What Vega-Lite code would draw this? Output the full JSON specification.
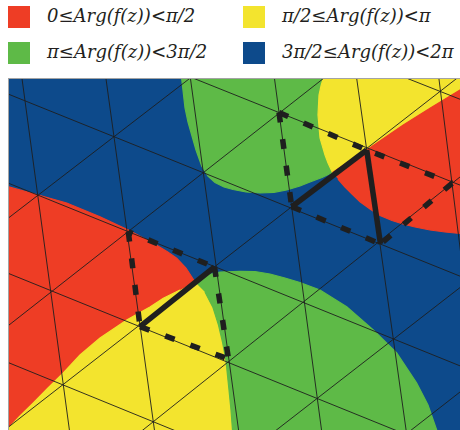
{
  "$schema": "https://vega.github.io/schema/vega-lite/v6.json",
  "width": 451,
  "height": 351,
  "autosize": {"type": "none"},
  "padding": {"left": 9, "top": 79, "right": 0, "bottom": 0},
  "background": "white",
  "config": {
    "view": {"stroke": "#a3a3a3", "strokeWidth": 2},
    "legend": {
      "symbolType": "square",
      "symbolSize": 484,
      "symbolStrokeWidth": 0,
      "symbolOpacity": 1,
      "labelFont": "DejaVu Serif",
      "labelFontStyle": "italic",
      "labelFontSize": 18,
      "labelColor": "#231f20",
      "labelOffset": 17,
      "labelLimit": 400,
      "rowPadding": 14,
      "columnPadding": 35,
      "padding": 0
    }
  },
  "datasets": {
    "regionArgs": [
      {"r": "blue", "arg": "3π/2≤Arg(f(z))<2π"},
      {"r": "topGreen", "arg": "π≤Arg(f(z))<3π/2"},
      {"r": "bottomGreen", "arg": "π≤Arg(f(z))<3π/2"},
      {"r": "topYellow", "arg": "π/2≤Arg(f(z))<π"},
      {"r": "bottomYellow", "arg": "π/2≤Arg(f(z))<π"},
      {"r": "topRed", "arg": "0≤Arg(f(z))<π/2"},
      {"r": "bottomRed", "arg": "0≤Arg(f(z))<π/2"}
    ],
    "regions": [
      {"r": "blue", "k": 1, "x": 0, "y": 70},
      {"r": "blue", "k": 2, "x": 470, "y": 70},
      {"r": "blue", "k": 3, "x": 470, "y": 440},
      {"r": "blue", "k": 4, "x": 0, "y": 440},

      {"r": "topGreen", "k": 1, "x": 181.2, "y": 70},
      {"r": "topGreen", "k": 2, "x": 181.7, "y": 79},
      {"r": "topGreen", "k": 3, "x": 185, "y": 108},
      {"r": "topGreen", "k": 4, "x": 188, "y": 122},
      {"r": "topGreen", "k": 5, "x": 191.7, "y": 135},
      {"r": "topGreen", "k": 6, "x": 196, "y": 150},
      {"r": "topGreen", "k": 7, "x": 201.7, "y": 166},
      {"r": "topGreen", "k": 8, "x": 208, "y": 176},
      {"r": "topGreen", "k": 9, "x": 215, "y": 182.5},
      {"r": "topGreen", "k": 10, "x": 224, "y": 187},
      {"r": "topGreen", "k": 11, "x": 233, "y": 189.5},
      {"r": "topGreen", "k": 12, "x": 246, "y": 192},
      {"r": "topGreen", "k": 13, "x": 260, "y": 193},
      {"r": "topGreen", "k": 14, "x": 274, "y": 192.3},
      {"r": "topGreen", "k": 15, "x": 286.7, "y": 190},
      {"r": "topGreen", "k": 16, "x": 300, "y": 186},
      {"r": "topGreen", "k": 17, "x": 310, "y": 182},
      {"r": "topGreen", "k": 18, "x": 322, "y": 177.5},
      {"r": "topGreen", "k": 19, "x": 332.5, "y": 172.5},
      {"r": "topGreen", "k": 20, "x": 328, "y": 163},
      {"r": "topGreen", "k": 21, "x": 325, "y": 155},
      {"r": "topGreen", "k": 22, "x": 320, "y": 138},
      {"r": "topGreen", "k": 23, "x": 318, "y": 115},
      {"r": "topGreen", "k": 24, "x": 319, "y": 95},
      {"r": "topGreen", "k": 25, "x": 321, "y": 86},
      {"r": "topGreen", "k": 26, "x": 323, "y": 79},
      {"r": "topGreen", "k": 27, "x": 324, "y": 70},

      {"r": "topYellow", "k": 1, "x": 324, "y": 70},
      {"r": "topYellow", "k": 2, "x": 323, "y": 79},
      {"r": "topYellow", "k": 3, "x": 321, "y": 86},
      {"r": "topYellow", "k": 4, "x": 319, "y": 95},
      {"r": "topYellow", "k": 5, "x": 318, "y": 115},
      {"r": "topYellow", "k": 6, "x": 320, "y": 138},
      {"r": "topYellow", "k": 7, "x": 325, "y": 155},
      {"r": "topYellow", "k": 8, "x": 328, "y": 163},
      {"r": "topYellow", "k": 9, "x": 332.5, "y": 172.5},
      {"r": "topYellow", "k": 10, "x": 349, "y": 161.5},
      {"r": "topYellow", "k": 11, "x": 366.7, "y": 150},
      {"r": "topYellow", "k": 12, "x": 385, "y": 137.5},
      {"r": "topYellow", "k": 13, "x": 403.3, "y": 125},
      {"r": "topYellow", "k": 14, "x": 430, "y": 108.3},
      {"r": "topYellow", "k": 15, "x": 460, "y": 90},
      {"r": "topYellow", "k": 16, "x": 475, "y": 81},
      {"r": "topYellow", "k": 17, "x": 475, "y": 70},

      {"r": "topRed", "k": 1, "x": 332.5, "y": 172.5},
      {"r": "topRed", "k": 2, "x": 349, "y": 161.5},
      {"r": "topRed", "k": 3, "x": 366.7, "y": 150},
      {"r": "topRed", "k": 4, "x": 385, "y": 137.5},
      {"r": "topRed", "k": 5, "x": 403.3, "y": 125},
      {"r": "topRed", "k": 6, "x": 430, "y": 108.3},
      {"r": "topRed", "k": 7, "x": 460, "y": 90},
      {"r": "topRed", "k": 8, "x": 475, "y": 81},
      {"r": "topRed", "k": 9, "x": 475, "y": 235},
      {"r": "topRed", "k": 10, "x": 460, "y": 233.5},
      {"r": "topRed", "k": 11, "x": 445, "y": 232},
      {"r": "topRed", "k": 12, "x": 430, "y": 230},
      {"r": "topRed", "k": 13, "x": 415, "y": 227},
      {"r": "topRed", "k": 14, "x": 403, "y": 224},
      {"r": "topRed", "k": 15, "x": 392, "y": 220.5},
      {"r": "topRed", "k": 16, "x": 380, "y": 215.5},
      {"r": "topRed", "k": 17, "x": 370, "y": 209},
      {"r": "topRed", "k": 18, "x": 360, "y": 201.7},
      {"r": "topRed", "k": 19, "x": 352, "y": 194},
      {"r": "topRed", "k": 20, "x": 345, "y": 187},
      {"r": "topRed", "k": 21, "x": 338, "y": 179},

      {"r": "bottomRed", "k": 1, "x": 0, "y": 184.5},
      {"r": "bottomRed", "k": 2, "x": 8.3, "y": 186.7},
      {"r": "bottomRed", "k": 3, "x": 38.3, "y": 195},
      {"r": "bottomRed", "k": 4, "x": 66.7, "y": 203},
      {"r": "bottomRed", "k": 5, "x": 100, "y": 216.7},
      {"r": "bottomRed", "k": 6, "x": 128.3, "y": 230},
      {"r": "bottomRed", "k": 7, "x": 153.3, "y": 243.3},
      {"r": "bottomRed", "k": 8, "x": 167, "y": 251.5},
      {"r": "bottomRed", "k": 9, "x": 176.7, "y": 258.3},
      {"r": "bottomRed", "k": 10, "x": 186, "y": 268},
      {"r": "bottomRed", "k": 11, "x": 195, "y": 282},
      {"r": "bottomRed", "k": 12, "x": 180, "y": 290},
      {"r": "bottomRed", "k": 13, "x": 163.3, "y": 298.3},
      {"r": "bottomRed", "k": 14, "x": 150, "y": 307},
      {"r": "bottomRed", "k": 15, "x": 140, "y": 312.5},
      {"r": "bottomRed", "k": 16, "x": 126.7, "y": 320},
      {"r": "bottomRed", "k": 17, "x": 100, "y": 338},
      {"r": "bottomRed", "k": 18, "x": 80, "y": 355},
      {"r": "bottomRed", "k": 19, "x": 63.3, "y": 373},
      {"r": "bottomRed", "k": 20, "x": 48, "y": 388},
      {"r": "bottomRed", "k": 21, "x": 33.3, "y": 403},
      {"r": "bottomRed", "k": 22, "x": 20, "y": 416},
      {"r": "bottomRed", "k": 23, "x": 10, "y": 426.7},
      {"r": "bottomRed", "k": 24, "x": 3, "y": 435},
      {"r": "bottomRed", "k": 25, "x": 0, "y": 435},

      {"r": "bottomYellow", "k": 1, "x": 195, "y": 282},
      {"r": "bottomYellow", "k": 2, "x": 205, "y": 292},
      {"r": "bottomYellow", "k": 3, "x": 213, "y": 307.5},
      {"r": "bottomYellow", "k": 4, "x": 218.5, "y": 325},
      {"r": "bottomYellow", "k": 5, "x": 222.5, "y": 342},
      {"r": "bottomYellow", "k": 6, "x": 226, "y": 361},
      {"r": "bottomYellow", "k": 7, "x": 229, "y": 390},
      {"r": "bottomYellow", "k": 8, "x": 231, "y": 410},
      {"r": "bottomYellow", "k": 9, "x": 232.5, "y": 430},
      {"r": "bottomYellow", "k": 10, "x": 233, "y": 440},
      {"r": "bottomYellow", "k": 11, "x": 0, "y": 440},
      {"r": "bottomYellow", "k": 12, "x": 0, "y": 435},
      {"r": "bottomYellow", "k": 13, "x": 3, "y": 435},
      {"r": "bottomYellow", "k": 14, "x": 10, "y": 426.7},
      {"r": "bottomYellow", "k": 15, "x": 20, "y": 416},
      {"r": "bottomYellow", "k": 16, "x": 33.3, "y": 403},
      {"r": "bottomYellow", "k": 17, "x": 48, "y": 388},
      {"r": "bottomYellow", "k": 18, "x": 63.3, "y": 373},
      {"r": "bottomYellow", "k": 19, "x": 80, "y": 355},
      {"r": "bottomYellow", "k": 20, "x": 100, "y": 338},
      {"r": "bottomYellow", "k": 21, "x": 126.7, "y": 320},
      {"r": "bottomYellow", "k": 22, "x": 140, "y": 312.5},
      {"r": "bottomYellow", "k": 23, "x": 150, "y": 307},
      {"r": "bottomYellow", "k": 24, "x": 163.3, "y": 298.3},
      {"r": "bottomYellow", "k": 25, "x": 180, "y": 290},

      {"r": "bottomGreen", "k": 1, "x": 195, "y": 282},
      {"r": "bottomGreen", "k": 2, "x": 200, "y": 278},
      {"r": "bottomGreen", "k": 3, "x": 206.7, "y": 275},
      {"r": "bottomGreen", "k": 4, "x": 220, "y": 272},
      {"r": "bottomGreen", "k": 5, "x": 240, "y": 271.3},
      {"r": "bottomGreen", "k": 6, "x": 255, "y": 271.5},
      {"r": "bottomGreen", "k": 7, "x": 270, "y": 274},
      {"r": "bottomGreen", "k": 8, "x": 285, "y": 278},
      {"r": "bottomGreen", "k": 9, "x": 300, "y": 282.5},
      {"r": "bottomGreen", "k": 10, "x": 320, "y": 290},
      {"r": "bottomGreen", "k": 11, "x": 346.7, "y": 306.7},
      {"r": "bottomGreen", "k": 12, "x": 373.3, "y": 330},
      {"r": "bottomGreen", "k": 13, "x": 396.7, "y": 353},
      {"r": "bottomGreen", "k": 14, "x": 416.7, "y": 383},
      {"r": "bottomGreen", "k": 15, "x": 428, "y": 405},
      {"r": "bottomGreen", "k": 16, "x": 436.7, "y": 430},
      {"r": "bottomGreen", "k": 17, "x": 440, "y": 440},
      {"r": "bottomGreen", "k": 18, "x": 233, "y": 440},
      {"r": "bottomGreen", "k": 19, "x": 232.5, "y": 430},
      {"r": "bottomGreen", "k": 20, "x": 231, "y": 410},
      {"r": "bottomGreen", "k": 21, "x": 229, "y": 390},
      {"r": "bottomGreen", "k": 22, "x": 226, "y": 361},
      {"r": "bottomGreen", "k": 23, "x": 222.5, "y": 342},
      {"r": "bottomGreen", "k": 24, "x": 218.5, "y": 325},
      {"r": "bottomGreen", "k": 25, "x": 213, "y": 307.5},
      {"r": "bottomGreen", "k": 26, "x": 205, "y": 292}
    ],
    "grid": [
      {"family": "A", "x1": 19.5, "y1": 60, "x2": 72.1, "y2": 450},
      {"family": "A", "x1": 103.4, "y1": 60, "x2": 157.2, "y2": 450},
      {"family": "A", "x1": 187.9, "y1": 60, "x2": 241.3, "y2": 450},
      {"family": "A", "x1": 272, "y1": 60, "x2": 324.2, "y2": 450},
      {"family": "A", "x1": 354.1, "y1": 60, "x2": 408.9, "y2": 450},
      {"family": "A", "x1": 436.6, "y1": 60, "x2": 485.3, "y2": 450},
      {"family": "B", "x1": 0, "y1": -82.5, "x2": 470, "y2": 103.2},
      {"family": "B", "x1": 0, "y1": 0.7, "x2": 470, "y2": 189.1},
      {"family": "B", "x1": 0, "y1": 90.75, "x2": 470, "y2": 280.2},
      {"family": "B", "x1": 0, "y1": 179.8, "x2": 470, "y2": 369.9},
      {"family": "B", "x1": 0, "y1": 270, "x2": 470, "y2": 460.4},
      {"family": "B", "x1": 0, "y1": 359.2, "x2": 470, "y2": 551},
      {"family": "C", "x1": 0, "y1": 224.5, "x2": 470, "y2": -137.4},
      {"family": "C", "x1": 0, "y1": 332.1, "x2": 470, "y2": -36.5},
      {"family": "C", "x1": 0, "y1": 433.6, "x2": 470, "y2": 68.1},
      {"family": "C", "x1": 0, "y1": 544, "x2": 470, "y2": 169},
      {"family": "C", "x1": 0, "y1": 644.5, "x2": 470, "y2": 279.8},
      {"family": "C", "x1": 0, "y1": 750.8, "x2": 470, "y2": 384.2}
    ],
    "edges": [
      {"kind": "dashed", "phase": "p0", "x1": 279, "y1": 112.5, "x2": 366.7, "y2": 150},
      {"kind": "dashed", "phase": "p0", "x1": 279, "y1": 112.5, "x2": 291.7, "y2": 206.7},
      {"kind": "dashed", "phase": "p9", "x1": 366.7, "y1": 150, "x2": 452, "y2": 183.3},
      {"kind": "dashed", "phase": "p0", "x1": 452, "y1": 183.3, "x2": 380.5, "y2": 244},
      {"kind": "dashed", "phase": "p0", "x1": 291.7, "y1": 206.7, "x2": 380.5, "y2": 244},
      {"kind": "dashed", "phase": "p0", "x1": 128.3, "y1": 231.7, "x2": 140, "y2": 326.7},
      {"kind": "dashed", "phase": "p21", "x1": 128.3, "y1": 231.7, "x2": 214.5, "y2": 267},
      {"kind": "dashed", "phase": "p0", "x1": 214.5, "y1": 267, "x2": 228.5, "y2": 359},
      {"kind": "dashed", "phase": "p0", "x1": 140, "y1": 326.7, "x2": 228.5, "y2": 359},
      {"kind": "solid", "phase": "none", "x1": 366.7, "y1": 150, "x2": 291.7, "y2": 206.7},
      {"kind": "solid", "phase": "none", "x1": 366.7, "y1": 150, "x2": 380.5, "y2": 244},
      {"kind": "solid", "phase": "none", "x1": 214.5, "y1": 267, "x2": 140, "y2": 326.7}
    ]
  },
  "layer": [
    {
      "data": {"name": "regions"},
      "transform": [
        {"filter": "datum.r === 'blue'"},
        {"lookup": "r", "from": {"data": {"name": "regionArgs"}, "key": "r", "fields": ["arg"]}}
      ],
      "mark": {"type": "line", "clip": true, "strokeWidth": 0, "interpolate": "linear"},
      "encoding": {
        "x": {"field": "x", "type": "quantitative", "scale": {"domain": [9, 460], "nice": false, "zero": false}, "axis": null},
        "y": {"field": "y", "type": "quantitative", "scale": {"domain": [79, 430], "reverse": true, "nice": false, "zero": false}, "axis": null},
        "order": {"field": "k", "type": "quantitative"},
        "detail": {"field": "r", "type": "nominal"},
        "fill": {
          "field": "arg", "type": "nominal",
          "scale": {
            "domain": ["0≤Arg(f(z))<π/2", "π/2≤Arg(f(z))<π", "π≤Arg(f(z))<3π/2", "3π/2≤Arg(f(z))<2π"],
            "range": ["#ee3d25", "#f3e42e", "#5eba47", "#0d4a8b"]
          },
          "legend": {"orient": "none", "legendX": -1, "legendY": -73, "columns": 2, "title": null, "direction": "horizontal"}
        }
      }
    },
    {
      "data": {"name": "regions"},
      "transform": [
        {"filter": "datum.r !== 'blue'"},
        {"lookup": "r", "from": {"data": {"name": "regionArgs"}, "key": "r", "fields": ["arg"]}}
      ],
      "mark": {"type": "line", "clip": true, "strokeWidth": 1.2, "interpolate": "linear"},
      "encoding": {
        "x": {"field": "x", "type": "quantitative", "scale": {"domain": [9, 460], "nice": false, "zero": false}, "axis": null},
        "y": {"field": "y", "type": "quantitative", "scale": {"domain": [79, 430], "reverse": true, "nice": false, "zero": false}, "axis": null},
        "order": {"field": "k", "type": "quantitative"},
        "detail": {"field": "r", "type": "nominal"},
        "fill": {
          "field": "arg", "type": "nominal",
          "scale": {
            "domain": ["0≤Arg(f(z))<π/2", "π/2≤Arg(f(z))<π", "π≤Arg(f(z))<3π/2", "3π/2≤Arg(f(z))<2π"],
            "range": ["#ee3d25", "#f3e42e", "#5eba47", "#0d4a8b"]
          },
          "legend": {"orient": "none", "legendX": -1, "legendY": -73, "columns": 2, "title": null, "direction": "horizontal"}
        },
        "stroke": {
          "field": "arg", "type": "nominal",
          "scale": {
            "domain": ["0≤Arg(f(z))<π/2", "π/2≤Arg(f(z))<π", "π≤Arg(f(z))<3π/2", "3π/2≤Arg(f(z))<2π"],
            "range": ["#ee3d25", "#f3e42e", "#5eba47", "#0d4a8b"]
          },
          "legend": null
        }
      }
    },
    {
      "data": {"name": "grid"},
      "mark": {"type": "rule", "clip": true, "color": "#1e1e1e", "strokeWidth": 0.9},
      "encoding": {
        "x": {"field": "x1", "type": "quantitative", "scale": {"domain": [9, 460], "nice": false, "zero": false}, "axis": null},
        "y": {"field": "y1", "type": "quantitative", "scale": {"domain": [79, 430], "reverse": true, "nice": false, "zero": false}, "axis": null},
        "x2": {"field": "x2"},
        "y2": {"field": "y2"}
      }
    },
    {
      "data": {"name": "edges"},
      "transform": [{"filter": "datum.phase === 'p0'"}],
      "mark": {"type": "rule", "clip": true, "color": "#1f1f1f", "strokeWidth": 5.5, "strokeCap": "butt", "strokeDash": [10, 16.8], "strokeDashOffset": 0},
      "encoding": {
        "x": {"field": "x1", "type": "quantitative", "scale": {"domain": [9, 460], "nice": false, "zero": false}, "axis": null},
        "y": {"field": "y1", "type": "quantitative", "scale": {"domain": [79, 430], "reverse": true, "nice": false, "zero": false}, "axis": null},
        "x2": {"field": "x2"},
        "y2": {"field": "y2"}
      }
    },
    {
      "data": {"name": "edges"},
      "transform": [{"filter": "datum.phase === 'p9'"}],
      "mark": {"type": "rule", "clip": true, "color": "#1f1f1f", "strokeWidth": 5.5, "strokeCap": "butt", "strokeDash": [10, 16.8], "strokeDashOffset": 17.8},
      "encoding": {
        "x": {"field": "x1", "type": "quantitative", "scale": {"domain": [9, 460], "nice": false, "zero": false}, "axis": null},
        "y": {"field": "y1", "type": "quantitative", "scale": {"domain": [79, 430], "reverse": true, "nice": false, "zero": false}, "axis": null},
        "x2": {"field": "x2"},
        "y2": {"field": "y2"}
      }
    },
    {
      "data": {"name": "edges"},
      "transform": [{"filter": "datum.phase === 'p21'"}],
      "mark": {"type": "rule", "clip": true, "color": "#1f1f1f", "strokeWidth": 5.5, "strokeCap": "butt", "strokeDash": [10, 16.8], "strokeDashOffset": 5.2},
      "encoding": {
        "x": {"field": "x1", "type": "quantitative", "scale": {"domain": [9, 460], "nice": false, "zero": false}, "axis": null},
        "y": {"field": "y1", "type": "quantitative", "scale": {"domain": [79, 430], "reverse": true, "nice": false, "zero": false}, "axis": null},
        "x2": {"field": "x2"},
        "y2": {"field": "y2"}
      }
    },
    {
      "data": {"name": "edges"},
      "transform": [{"filter": "datum.kind === 'solid'"}],
      "mark": {"type": "rule", "clip": true, "color": "#1f1f1f", "strokeWidth": 5.5, "strokeCap": "butt"},
      "encoding": {
        "x": {"field": "x1", "type": "quantitative", "scale": {"domain": [9, 460], "nice": false, "zero": false}, "axis": null},
        "y": {"field": "y1", "type": "quantitative", "scale": {"domain": [79, 430], "reverse": true, "nice": false, "zero": false}, "axis": null},
        "x2": {"field": "x2"},
        "y2": {"field": "y2"}
      }
    }
  ]
}
